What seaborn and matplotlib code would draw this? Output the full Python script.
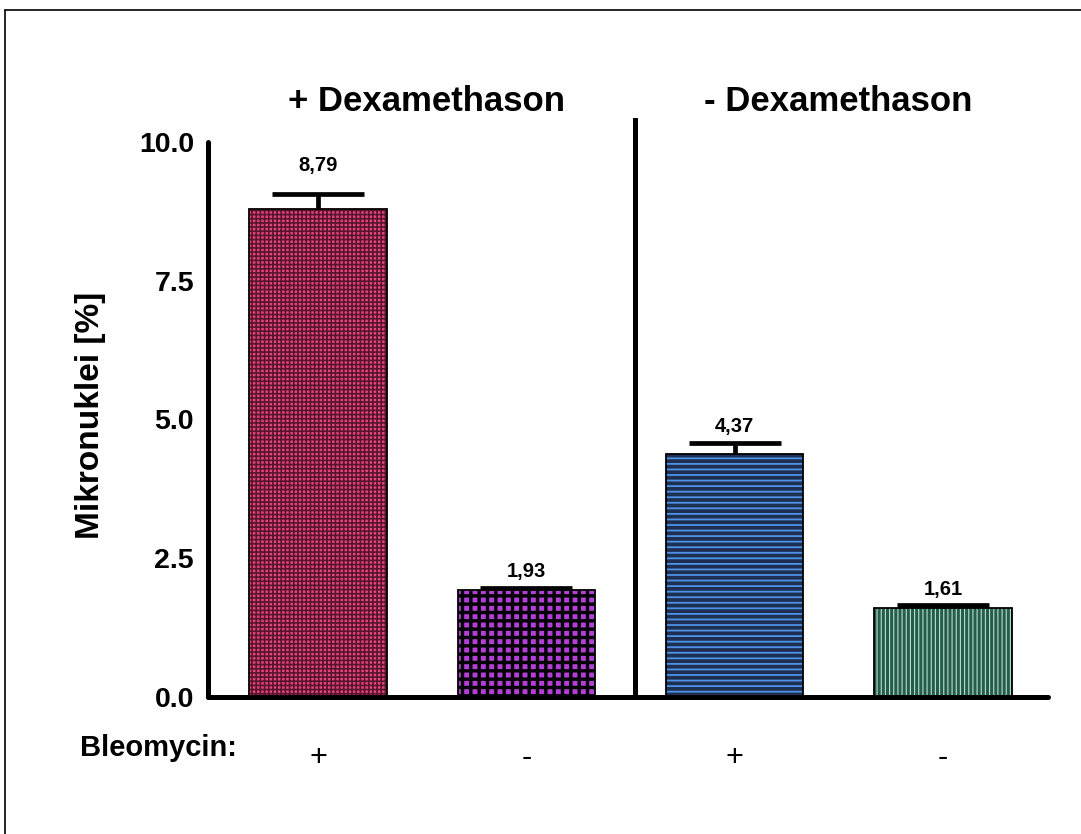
import numpy as np
import pandas as pd
import matplotlib
matplotlib.use("Agg")
import matplotlib.pyplot as plt
from matplotlib.lines import Line2D
import seaborn as sns

# data
groups = ["+Dexa +Bleo", "+Dexa -Bleo", "-Dexa +Bleo", "-Dexa -Bleo"]
values = [8.79, 1.93, 4.37, 1.61]
errors = [0.27, 0.04, 0.20, 0.05]
value_labels = ["8,79", "1,93", "4,37", "1,61"]
bleo_labels = ["+", "-", "+", "-"]
dexa_titles = ["+ Dexamethason", "- Dexamethason"]
y_ticks = [0.0, 2.5, 5.0, 7.5, 10.0]

# styling per bar: face, hatch colour, hatch pattern, hatch line width
faces = ["#e4467e", "#b23fd6", "#1e2f52", "#2b5a4b"]
hatch_colors = ["#5a1430", "#000000", "#4f93e6", "#a6e6cf"]
hatches = ["++++", "++", "---", "||||"]
hatch_lw = [1.2, 2.4, 1.3, 0.8]
label_pad = [14, 5, 5, 4]

sns.set_style("white")
plt.rcParams["font.family"] = ["Liberation Sans", "DejaVu Sans"]
plt.rcParams["text.color"] = "black"
plt.rcParams["xtick.color"] = "black"
plt.rcParams["ytick.color"] = "black"
plt.rcParams["axes.labelcolor"] = "black"

df = pd.DataFrame({"group": groups, "value": values})

fig = plt.figure(figsize=(10.81, 8.34), dpi=100)
ax = fig.add_axes([208 / 1081, 1 - 697 / 834, 840 / 1081, 579 / 834])

sns.barplot(data=df, x="group", y="value", ax=ax, width=0.66,
            color="white", errorbar=None)
for i, p in enumerate(ax.patches):
    p.set_facecolor(faces[i])
    p.set_edgecolor(hatch_colors[i])
    p.set_hatch(hatches[i])
    p.set_linewidth(0)
    if hasattr(p, "set_hatch_linewidth"):
        p.set_hatch_linewidth(hatch_lw[i])
# black outlines on top
sns.barplot(data=df, x="group", y="value", ax=ax, width=0.66,
            fill=False, color="black", linewidth=1.3, errorbar=None)

x = np.arange(len(values))
upper = [np.zeros(len(errors)), errors]
eb = ax.errorbar(x, values, yerr=upper, fmt="none", ecolor="black",
                 elinewidth=3.4, capsize=33, capthick=3.4, zorder=5)
# only the upper caps are drawn in the reference
for cap in eb[1]:
    if np.allclose(cap.get_ydata(), values):
        cap.set_visible(False)

for i in range(len(values)):
    ax.annotate(value_labels[i], (x[i], values[i] + errors[i]),
                xytext=(0, label_pad[i]), textcoords="offset points",
                ha="center", va="bottom", fontsize=14.5, fontweight="bold")

ax.set_xlim(-0.528, 3.505)
ax.set_ylim(0, 10.43)
ax.set_yticks(y_ticks)
ax.set_yticklabels([f"{t:.1f}" for t in y_ticks], fontsize=20.5, fontweight="bold")
ax.set_xticks(x)
ax.set_xticklabels(bleo_labels, fontsize=22)
ax.tick_params(axis="x", length=0, pad=33)
ax.tick_params(axis="y", direction="out", length=7, width=3.2, pad=3)
ax.set_xlabel("")
ax.set_ylabel("Mikronuklei [%]", fontsize=24, fontweight="bold")
ax.yaxis.set_label_coords(-0.121, 0.487)

for side in ["top", "right"]:
    ax.spines[side].set_visible(False)
for side in ["left", "bottom"]:
    ax.spines[side].set_linewidth(3.6)
    ax.spines[side].set_color("black")
    ax.spines[side].set_capstyle("round")
ax.spines["left"].set_bounds(0, 10)

# divider between the two Dexamethason groups
ax.axvline(1.52, ymin=0, ymax=1, color="black", lw=3.6,
           solid_capstyle="round", zorder=6)

for gx, title in zip([0.52, 2.5], dexa_titles):
    ax.text(gx, 1.0, title, transform=ax.get_xaxis_transform(),
            ha="center", va="bottom", fontsize=25, fontweight="bold")

fig.text(80 / 1081, 1 - 748 / 834, "Bleomycin:", ha="left", va="center",
         fontsize=21, fontweight="bold")

# figure frame (top and left edge visible in the reference)
fig.add_artist(Line2D([5 / 1081, 1.0], [1 - 10 / 834, 1 - 10 / 834],
                      transform=fig.transFigure, color="black", lw=1.2))
fig.add_artist(Line2D([5 / 1081, 5 / 1081], [0.0, 1 - 10 / 834],
                      transform=fig.transFigure, color="black", lw=1.2))

fig.savefig("out.png", dpi=100)
